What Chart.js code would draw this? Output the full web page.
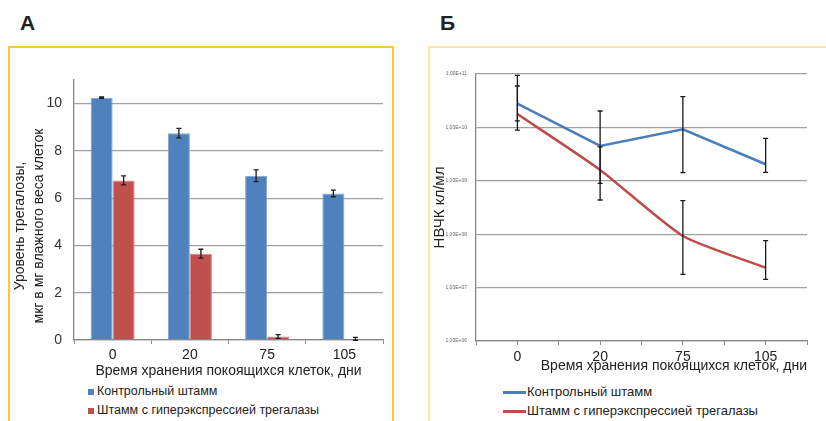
<!DOCTYPE html>
<html>
<head>
<meta charset="utf-8">
<script src="https://cdn.jsdelivr.net/npm/chart.js@4/dist/chart.umd.min.js"></script>
<style>
  body { margin: 0; width: 826px; height: 421px; background: #fff; position: relative; overflow: hidden;
         font-family: "Liberation Sans", Arial, sans-serif; color: #222; }
  .panel-label { position: absolute; font-weight: bold; font-size: 21px; line-height: 1; }
  .frame { position: absolute; border: 2px solid #f6c935; border-bottom: none; }
  .frame.pale { border-color: #fde7a3; }
  canvas { position: absolute; }
  .leg { position: absolute; font-size: 12.5px; white-space: nowrap; line-height: 1; }
  .leg i { display: inline-block; vertical-align: middle; margin-right: 3px; }
</style>
</head>
<body>
<div class="panel-label" style="left:20px;top:12px">А</div>
<div class="panel-label" style="left:440px;top:12px">Б</div>

<div class="frame" style="left:8px;top:46px;width:382px;height:380px"></div>
<div class="frame pale" style="left:428px;top:46px;width:420px;height:380px"></div>

<div style="position:absolute;left:10px;top:50px;width:380px;height:330px">
  <canvas id="chartA" width="380" height="330" style="left:0;top:0"></canvas>
</div>
<div style="position:absolute;left:430px;top:50px;width:396px;height:330px">
  <canvas id="chartB" width="396" height="330" style="left:0;top:0"></canvas>
</div>

<div class="leg" style="left:88px;top:385px"><i style="width:6px;height:6px;background:#4f81bd"></i>Контрольный штамм</div>
<div class="leg" style="left:88px;top:404px"><i style="width:6px;height:6px;background:#c0504d"></i>Штамм с гиперэкспрессией трегалазы</div>
<div class="leg" style="left:503px;top:385px;font-size:13px"><i style="width:23px;height:3px;background:#4a7ebb;margin-right:1px"></i>Контрольный штамм</div>
<div class="leg" style="left:503px;top:404px;font-size:13px"><i style="width:23px;height:3px;background:#be4b48;margin-right:1px"></i>Штамм с гиперэкспрессией трегалазы</div>

<script>
// --- data ---
const days = ['0', '20', '75', '105'];

// panel A: trehalose level, ug per mg wet weight
const trehControl = [10.25, 8.75, 6.95, 6.2];
const trehControlErr = [0.03, 0.2, 0.25, 0.14];
const trehOver = [6.75, 3.65, 0.15, 0.05];
const trehOverErr = [0.19, 0.19, 0.08, 0.06];

// panel B: CFU per ml (log scale), error bars as low/high
const cfuControl = [2.8e10, 4.5e9, 9.2e9, 2.04e9];
const cfuControlLow = [1.33e10, 8.98e8, 1.42e9, 1.44e9];
const cfuControlHigh = [9.46e10, 2.03e10, 3.76e10, 6.24e9];
const cfuOver = [1.78e10, 1.6e9, 9.25e7, 2.36e7];
const cfuOverLow = [8.9e9, 4.37e8, 1.77e7, 1.43e7];
const cfuOverHigh = [5.96e10, 4.3e9, 4.25e8, 7.56e7];

const BLUE = '#4f81bd';
const RED = '#c0504d';
const GRID = '#a0a0a0';
const TEXT = '#222';
const FONT = '"Liberation Sans", Arial, sans-serif';

// error bars drawn from dataset.errLow / dataset.errHigh through the y scale
const errorBars = {
    id: 'errorBars',
    afterDatasetsDraw(chart) {
        const ctx = chart.ctx;
        const y = chart.scales.y;
        ctx.save();
        ctx.strokeStyle = '#1a1a1a';
        ctx.lineWidth = 1.3;
        chart.data.datasets.forEach((ds, i) => {
            if (!ds.errLow) return;
            chart.getDatasetMeta(i).data.forEach((el, j) => {
                const x = el.x;
                const top = y.getPixelForValue(ds.errHigh[j]);
                const bot = y.getPixelForValue(ds.errLow[j]);
                ctx.beginPath();
                ctx.moveTo(x, top); ctx.lineTo(x, bot);
                ctx.moveTo(x - 2.5, top); ctx.lineTo(x + 2.5, top);
                ctx.moveTo(x - 2.5, bot); ctx.lineTo(x + 2.5, bot);
                ctx.stroke();
            });
        });
        ctx.restore();
    }
};

// two-line rotated y title for panel A (centred lower than the plot area)
const sideTitle = {
    id: 'sideTitle',
    afterDraw(chart, args, opts) {
        if (!opts.lines) return;
        const ctx = chart.ctx;
        ctx.save();
        ctx.fillStyle = TEXT;
        ctx.font = '14px ' + FONT;
        ctx.textAlign = 'center';
        ctx.textBaseline = 'middle';
        opts.lines.forEach((t, k) => {
            ctx.save();
            ctx.translate(opts.x[k], opts.cy);
            ctx.rotate(-Math.PI / 2);
            ctx.fillText(t, 0, 0);
            ctx.restore();
        });
        ctx.restore();
    }
};

Chart.defaults.font.family = FONT;
Chart.defaults.color = TEXT;
Chart.defaults.animation = false;

const withErr = (vals, errs) => ({
    low: vals.map((v, i) => v - errs[i]),
    high: vals.map((v, i) => v + errs[i])
});
const eA = withErr(trehControl, trehControlErr);
const eB = withErr(trehOver, trehOverErr);

new Chart(document.getElementById('chartA'), {
    type: 'bar',
    data: {
        labels: days,
        datasets: [
            {
                label: 'Контрольный штамм',
                data: trehControl,
                backgroundColor: BLUE,
                borderColor: '#7da3d4',
                borderWidth: 1,
                errLow: eA.low,
                errHigh: eA.high
            },
            {
                label: 'Штамм с гиперэкспрессией трегалазы',
                data: trehOver,
                backgroundColor: RED,
                borderColor: '#d98482',
                borderWidth: 1,
                errLow: eB.low,
                errHigh: eB.high
            }
        ]
    },
    options: {
        responsive: false,
        categoryPercentage: 0.57,
        barPercentage: 1,
        layout: { padding: { top: 30, right: 7, left: 0, bottom: 0 } },
        plugins: {
            legend: { display: false },
            tooltip: { enabled: false },
            sideTitle: {
                lines: ['Уровень трегалозы,', 'мкг в мг влажного веса клеток'],
                x: [10, 29],
                cy: 176
            }
        },
        scales: {
            x: {
                afterFit: s => { s.height = 40; },
                grid: { offset: true, drawOnChartArea: false, tickLength: 4, color: '#888' },
                border: { color: '#888', width: 1.3 },
                ticks: { padding: 3, font: { size: 14 }, color: TEXT },
                title: { display: true, text: 'Время хранения покоящихся клеток, дни',
                         font: { size: 14 }, color: TEXT, padding: { top: 0, bottom: 0 } }
            },
            y: {
                min: 0,
                max: 11,
                afterFit: s => { s.width = 64; },
                ticks: { stepSize: 2, includeBounds: false, padding: 12, font: { size: 14 }, color: '#333' },
                grid: { drawTicks: false, color: GRID, lineWidth: 1.3 },
                border: { color: '#888', width: 1.3 }
            }
        }
    },
    plugins: [errorBars, sideTitle]
});

new Chart(document.getElementById('chartB'), {
    type: 'line',
    data: {
        datasets: [
            {
                label: 'Контрольный штамм',
                data: cfuControl.map((v, i) => ({ x: i, y: v })),
                borderColor: '#4a7ebb',
                borderWidth: 2.5,
                pointRadius: 0,
                tension: 0,
                errLow: cfuControlLow,
                errHigh: cfuControlHigh
            },
            {
                label: 'Штамм с гиперэкспрессией трегалазы',
                data: cfuOver.map((v, i) => ({ x: i, y: v })),
                borderColor: '#be4b48',
                borderWidth: 2.5,
                pointRadius: 0,
                tension: 0.2,
                errLow: cfuOverLow,
                errHigh: cfuOverHigh
            }
        ]
    },
    options: {
        responsive: false,
        layout: { padding: { top: 24, right: 19, left: 0, bottom: 0 } },
        plugins: {
            legend: { display: false },
            tooltip: { enabled: false }
        },
        scales: {
            x: {
                type: 'linear',
                min: -0.5,
                max: 3.5,
                afterFit: s => { s.height = 39; },
                grid: { drawOnChartArea: false, tickLength: 4, color: '#888' },
                border: { color: '#888', width: 1.3 },
                ticks: {
                    stepSize: 0.5,
                    autoSkip: false,
                    maxRotation: 0,
                    padding: 4,
                    font: { size: 14 },
                    color: TEXT,
                    callback: v => Number.isInteger(v) ? days[v] : ''
                },
                title: { display: true, align: 'end', text: 'Время хранения покоящихся клеток, дни',
                         font: { size: 14 }, color: TEXT, padding: { top: 0, bottom: 5 } }
            },
            y: {
                type: 'logarithmic',
                min: 1e6,
                max: 1e11,
                afterFit: s => { s.width = 46; },
                afterBuildTicks: s => {
                    s.ticks = s.ticks.filter(t => {
                        const e = Math.round(Math.log10(t.value));
                        return Math.abs(t.value - Math.pow(10, e)) < 1e-6 * t.value;
                    });
                },
                ticks: {
                    padding: 9,
                    font: { size: 5 },
                    color: '#666',
                    autoSkip: false,
                    callback: v => '1,00E+' + String(Math.round(Math.log10(v))).padStart(2, '0')
                },
                grid: { drawTicks: false, color: GRID, lineWidth: 1.3 },
                border: { color: '#888', width: 1.3 },
                title: { display: true, text: 'НВЧК кл/мл', font: { size: 15 }, color: TEXT,
                         padding: { top: 1, bottom: 0 } }
            }
        }
    },
    plugins: [errorBars]
});
</script>
</body>
</html>
